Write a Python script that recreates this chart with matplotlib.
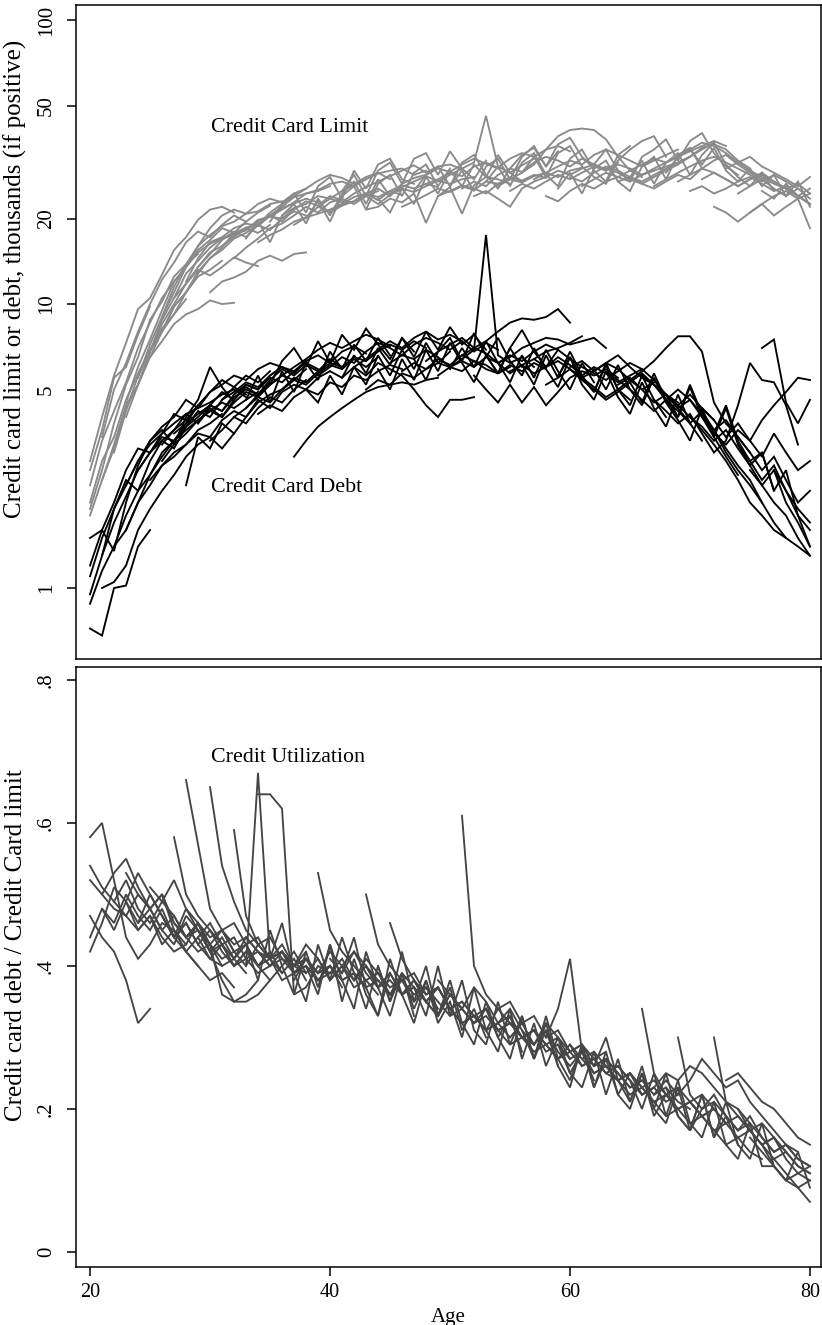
import matplotlib
matplotlib.use("Agg")
import matplotlib.pyplot as plt
import numpy as np

plt.rcParams['font.family'] = ['Liberation Serif', 'DejaVu Serif']

# ---- data: cohort lines (first age of each line, then yearly values) ----
starts = [20, 20, 20, 20, 20, 21, 22, 24, 25, 27, 28, 30, 31, 33, 34, 36, 37, 39, 40, 42, 43,
          45, 46, 48, 49, 51, 52, 54, 55, 57, 58, 60, 61, 63, 64, 66, 67, 69, 70, 72, 73, 75, 76,
          23, 26, 32,
          20, 21, 23, 26, 29, 33, 35, 38, 41, 44, 47, 50, 53, 56, 59, 62, 65, 68, 71, 74, 77]

limit_vals = [
    [2.6, 3.6, 5.5, 6.0, 7.8, 9.8],
    [2.0, 2.8, 3.4, 4.6, 5.7, 6.9, 8.2, 9.2, 10.4],
    [1.8, 2.4, 3.2, 4.4, 5.2, 6.8, 8.0, 9.8, 11.0, 12.5, 13.2, 14.2],
    [2.3, 3.3, 4.2, 5.3, 7.0, 8.6, 10.5, 12.0, 13.5, 15.2, 16.3, 17.0, 17.8, 18.5],
    [2.8, 4.0, 5.6, 7.3, 9.6, 10.5, 12.7, 15.5, 17.2, 19.8, 21.5, 22.0, 21.0],
    [2.4, 3.1, 4.3, 5.2, 6.5, 7.4, 8.5, 9.2, 9.6, 10.3, 10.0, 10.1],
    [3.0, 4.2, 5.6, 6.8, 8.8, 10.5, 11.8, 13.2, 12.6, 13.5, 14.6, 14.0, 13.6],
    [5.5, 7.2, 9.0, 11.5, 13.8, 16.0, 17.5, 18.8, 19.5, 20.8, 21.2, 22.5, 23.0],
    [6.5, 8.0, 9.8, 11.0, 13.0, 14.5, 15.8, 17.8, 18.2, 19.6, 20.3, 20.0, 21.5],
    [10.5, 12.8, 14.2, 15.8, 17.0, 17.5, 18.6, 19.0, 20.5, 21.8, 22.6, 23.5, 22.8],
    [12.0, 14.5, 16.5, 17.2, 18.5, 19.2, 18.8, 20.5, 22.0, 23.8, 24.5, 25.0, 26.0],
    [11.0, 12.0, 12.4, 13.0, 14.2, 14.8, 14.2, 15.0, 15.2],
    [16.0, 17.5, 18.2, 19.8, 20.3, 21.5, 22.8, 24.5, 25.2, 26.5, 27.0, 26.0, 27.5],
    [18.5, 19.0, 21.0, 22.5, 24.0, 25.5, 27.2, 28.5, 27.8, 26.5, 28.0, 29.0, 27.5],
    [16.5, 17.5, 18.3, 19.5, 20.2, 22.0, 21.2, 22.5, 23.8, 24.5, 23.2, 25.0, 24.2],
    [20.5, 21.8, 22.5, 24.0, 23.5, 25.0, 26.2, 27.5, 28.8, 29.5, 30.0, 28.5, 29.5],
    [19.0, 20.2, 20.8, 21.5, 22.5, 23.0, 24.5, 23.8, 25.0, 26.2, 25.5, 26.5, 25.8],
    [22.0, 23.5, 22.8, 24.5, 25.8, 27.0, 28.2, 29.5, 30.8, 29.0, 30.5, 31.0, 29.8],
    [21.0, 22.2, 23.0, 24.0, 22.5, 24.2, 25.5, 24.8, 26.0, 27.2, 26.5, 27.5, 28.0],
    [23.0, 24.5, 25.5, 24.0, 26.5, 27.8, 28.5, 30.0, 29.2, 31.0, 32.5, 31.2, 30.0],
    [21.5, 22.0, 23.5, 22.8, 24.5, 19.3, 24.0, 25.8, 20.8, 26.2, 28.0, 27.5, 26.5],
    [24.5, 25.8, 27.0, 28.2, 27.0, 28.5, 30.0, 31.5, 46.0, 30.5, 29.0, 30.8, 32.5],
    [22.0, 23.0, 24.2, 25.5, 24.8, 26.0, 25.2, 27.0, 26.5, 28.0, 27.2, 28.5, 27.8],
    [26.5, 27.5, 29.0, 28.2, 30.5, 31.5, 30.2, 32.5, 34.0, 33.0, 35.0, 36.0, 34.5],
    [24.0, 25.0, 26.2, 25.5, 24.5, 26.5, 27.5, 26.8, 28.2, 29.0, 28.0, 29.5, 30.2],
    [25.5, 27.0, 26.0, 28.5, 30.0, 29.2, 31.5, 33.0, 32.0, 30.5, 32.5, 31.0, 29.5],
    [24.0, 25.0, 23.5, 22.0, 25.5, 27.0, 28.0, 29.5, 28.5, 30.0, 31.0, 29.8, 31.5],
    [26.0, 27.5, 29.0, 31.0, 35.0, 39.0, 41.0, 41.5, 41.0, 38.0, 33.0, 29.5, 28.0],
    [25.0, 26.5, 25.5, 27.0, 28.5, 27.5, 29.0, 30.5, 29.5, 31.0, 30.0, 28.5, 29.5],
    [27.5, 29.0, 30.5, 32.0, 31.0, 33.5, 35.0, 33.5, 32.0, 30.5, 32.0, 33.5, 35.0],
    [24.0, 23.0, 25.0, 26.5, 25.5, 27.0, 28.0, 27.0, 28.5, 29.5, 30.5, 31.5, 33.0],
    [28.0, 27.0, 29.0, 30.5, 29.5, 28.0, 27.0, 28.5, 30.0, 31.5, 33.0, 35.0, 37.0],
    [26.0, 27.5, 29.0, 28.0, 29.5, 31.0, 32.5, 31.5, 33.0, 34.5, 36.0, 37.5, 36.0],
    [30.0, 29.0, 27.5, 26.5, 28.0, 29.5, 31.0, 33.0, 35.5, 36.5, 35.0, 32.0, 30.0],
    [27.0, 28.0, 26.5, 25.5, 27.0, 28.5, 27.5, 30.0, 32.0, 33.5, 31.0, 29.0, 27.5],
    [28.5, 30.0, 31.5, 33.0, 35.0, 37.0, 36.0, 34.0, 31.5, 29.5, 28.0, 26.5, 25.5],
    [26.0, 27.5, 29.0, 30.5, 32.0, 33.0, 31.5, 30.0, 28.5, 27.0, 28.5, 27.0, 25.5],
    [27.0, 28.5, 30.0, 29.0, 27.5, 26.0, 27.5, 28.5, 27.0, 25.5, 26.5, 24.5],
    [25.0, 26.0, 24.5, 25.5, 27.0, 28.0, 26.5, 25.0, 26.0, 24.0, 22.5],
    [22.0, 21.0, 19.5, 21.0, 22.5, 24.0, 25.0, 23.5, 24.5],
    [30.0, 31.5, 33.0, 30.5, 29.0, 27.5, 26.0, 28.0],
    [21.0, 22.5, 20.5, 22.0, 23.5, 18.5],
    [25.0, 23.5, 26.5, 24.0, 22.5],
    [4.0, 5.2, 6.8, 8.5, 10.0, 11.8, 13.5, 15.2, 16.0, 17.2, 18.5, 17.8, 19.0],
    [8.0, 9.2, 11.0, 12.8, 14.5, 15.5, 17.0, 17.8, 19.0, 18.2, 20.0, 21.2, 20.5],
    [14.5, 15.8, 17.0, 18.5, 19.2, 20.5, 22.0, 21.0, 22.8, 23.5, 22.5, 24.0, 25.0],
    [1.9, 2.6, 3.8, 5.2, 6.5, 8.8, 10.2, 12.5, 13.8, 15.0],
    [3.4, 5.0, 6.2, 8.0, 10.0, 12.2, 14.0, 16.5, 18.0, 17.2, 19.0, 20.5, 19.5],
    [4.5, 6.0, 7.5, 9.5, 12.0, 13.5, 15.5, 16.8, 18.5, 17.8, 19.5, 21.0, 22.2],
    [9.0, 11.0, 13.5, 16.0, 18.5, 20.5, 21.5, 20.8, 22.5, 23.5, 22.8, 24.5, 25.5],
    [13.5, 15.0, 16.8, 18.0, 17.2, 19.0, 20.5, 19.5, 21.5, 23.0, 22.2, 24.0, 23.2],
    [17.0, 19.5, 16.5, 20.5, 22.5, 19.2, 23.5, 20.5, 24.5, 27.0, 22.5, 27.5, 24.0],
    [19.5, 22.5, 24.5, 21.0, 26.0, 28.0, 23.5, 29.5, 25.5, 31.0, 32.5, 27.5, 26.5],
    [20.0, 23.0, 19.5, 24.0, 26.0, 21.5, 26.5, 28.5, 24.0, 29.0, 31.0, 26.0, 30.0],
    [25.0, 28.5, 24.0, 29.5, 31.5, 26.5, 32.5, 34.0, 28.5, 34.5, 30.0, 27.5, 32.0],
    [23.5, 21.0, 25.5, 22.5, 28.0, 24.5, 29.5, 26.0, 31.0, 28.0, 33.5, 29.0, 27.0],
    [25.0, 28.5, 30.5, 26.0, 31.5, 33.5, 28.5, 25.5, 30.0, 33.5, 35.5, 30.5, 34.5],
    [26.0, 29.5, 25.0, 30.5, 32.5, 27.5, 33.0, 36.0, 30.5, 36.5, 38.5, 33.0, 30.0],
    [27.0, 30.5, 26.0, 31.5, 34.0, 28.5, 26.0, 32.5, 35.0, 29.5, 27.0, 33.5, 36.0],
    [29.0, 33.0, 28.0, 34.0, 36.0, 30.5, 28.0, 26.5, 32.0, 35.0, 37.5, 39.0, 33.0],
    [25.5, 29.0, 24.5, 30.0, 32.0, 27.0, 25.0, 30.5, 33.0, 27.5, 33.5, 35.5, 30.0],
    [31.0, 35.0, 29.5, 27.0, 33.0, 35.0, 38.0, 32.0, 37.5, 40.0, 34.0, 30.5, 28.5],
    [28.0, 32.0, 26.5, 31.5, 34.0, 28.5, 33.5, 37.0, 31.0, 28.0, 26.0, 29.0, 25.0],
    [29.0, 33.0, 35.0, 31.0, 35.5, 29.5, 27.0, 30.0, 26.0, 28.5, 24.0, 27.0, 22.0],
    [27.5, 29.0, 27.5, 26.0, 27.5, 29.0, 27.0, 25.5, 24.0, 25.5],
    [24.5, 26.0, 27.5, 25.5, 24.0, 25.5, 23.5],
    [27.0, 25.5, 24.0, 22.5],
]

debt_vals = [
    [0.72, 0.68, 1.0, 1.02, 1.4, 1.6],
    [0.95, 1.3, 1.7, 2.1, 2.6, 3.0, 3.3, 3.6, 3.9],
    [0.88, 1.15, 1.4, 1.6, 2.0, 2.3, 2.7, 3.0, 3.2, 3.6, 3.8, 4.1],
    [1.1, 1.5, 1.9, 2.3, 2.8, 3.2, 3.5, 3.8, 4.1, 4.3, 4.5, 4.8, 5.0, 4.7],
    [1.5, 1.6, 1.35, 2.0, 2.7, 3.3, 3.6, 3.2, 4.0, 4.6, 6.0, 5.1, 4.5],
    [1.0, 1.05, 1.2, 1.6, 1.9, 2.2, 2.5, 2.9, 3.2, 3.4, 3.1, 3.5],
    [1.4, 1.8, 2.2, 2.5, 3.0, 3.3, 3.6, 3.9, 4.2, 4.5, 4.3, 4.6, 4.9],
    [2.6, 3.0, 3.4, 3.3, 3.8, 4.4, 4.9, 5.2, 5.6, 5.4, 5.9, 6.2, 6.0],
    [2.4, 2.7, 2.9, 3.2, 3.5, 3.4, 3.9, 4.2, 4.0, 4.5, 4.8, 5.0, 5.4],
    [3.5, 3.8, 4.1, 4.4, 4.2, 4.8, 5.2, 5.0, 5.5, 5.3, 5.8, 6.2, 5.9],
    [2.3, 3.4, 3.1, 3.8, 3.5, 4.0, 4.6, 4.3, 4.9, 5.2, 5.0, 5.5, 5.8],
    [3.3, 3.6, 4.0, 3.8, 4.3, 4.7, 4.5, 5.0, 5.4],
    [4.6, 4.9, 5.3, 5.1, 5.6, 6.0, 5.8, 6.3, 6.6, 6.2, 6.8, 7.1, 6.7],
    [4.3, 4.8, 5.2, 5.6, 6.0, 6.4, 6.9, 7.3, 7.0, 7.4, 7.8, 7.5, 7.1],
    [4.1, 4.4, 4.2, 4.7, 5.0, 4.8, 5.3, 5.1, 5.6, 5.4, 5.8, 6.1, 5.9],
    [5.0, 5.5, 5.3, 5.8, 6.2, 6.0, 6.5, 6.3, 6.8, 7.2, 6.9, 7.4, 7.0],
    [2.9, 3.3, 3.7, 4.0, 4.3, 4.6, 4.9, 5.1, 5.2, 5.3, 5.2, 5.4, 5.5],
    [5.6, 6.0, 6.5, 6.2, 6.8, 7.3, 7.0, 6.6, 7.2, 7.6, 7.3, 6.9, 7.4],
    [5.8, 5.5, 6.0, 5.6, 6.2, 5.9, 5.6, 5.0, 4.4, 4.0, 4.6, 4.6, 4.7],
    [6.0, 6.4, 6.9, 7.4, 7.0, 7.6, 8.0, 7.5, 7.8, 7.4, 6.8, 7.3, 6.9],
    [5.0, 5.4, 5.2, 5.7, 5.5, 5.9, 6.2, 6.0, 5.8, 6.3, 6.1, 5.7, 6.0],
    [6.2, 6.6, 6.4, 6.9, 6.5, 6.0, 6.4, 6.9, 17.5, 6.6, 6.2, 6.5, 6.0],
    [5.8, 6.2, 5.9, 6.4, 6.1, 6.6, 6.3, 5.9, 5.7, 6.1, 5.8, 6.2, 5.9],
    [6.3, 6.8, 7.2, 7.6, 7.0, 7.4, 8.0, 8.6, 8.9, 8.8, 9.0, 9.6, 8.6],
    [5.6, 6.0, 6.3, 6.0, 6.5, 6.2, 5.7, 6.1, 6.4, 6.8, 7.0, 7.3, 7.7],
    [6.6, 7.0, 6.7, 6.2, 6.5, 7.0, 7.3, 7.6, 7.5, 7.2, 7.4, 7.6, 7.0],
    [5.6, 5.0, 4.5, 5.2, 4.5, 5.1, 4.4, 4.9, 5.5, 5.8, 5.6, 5.9, 5.5],
    [6.2, 6.6, 6.3, 6.8, 7.2, 6.9, 6.4, 6.0, 5.7, 5.4, 5.8, 6.2, 5.9],
    [5.8, 6.1, 5.7, 6.0, 6.3, 5.9, 5.5, 5.8, 6.2, 5.9, 5.4, 5.0, 5.3],
    [6.4, 6.0, 6.5, 6.1, 5.6, 6.0, 5.7, 5.3, 5.6, 5.9, 5.4, 4.8, 4.5],
    [5.2, 5.5, 5.9, 5.4, 5.0, 4.6, 4.9, 5.3, 5.7, 5.2, 4.6, 4.2, 3.8],
    [6.0, 6.3, 5.8, 6.2, 6.6, 6.0, 5.5, 5.2, 4.8, 4.4, 4.8, 4.3, 3.9],
    [5.5, 5.1, 4.7, 5.0, 5.4, 5.8, 6.3, 7.0, 7.7, 7.7, 6.8, 4.5, 3.8],
    [5.8, 5.4, 5.0, 4.6, 4.2, 4.6, 5.0, 4.6, 4.0, 3.6, 3.9, 3.4, 3.0],
    [5.2, 5.5, 5.0, 4.5, 4.8, 4.3, 3.8, 4.2, 3.6, 3.0, 2.6, 2.3, 2.0],
    [5.6, 5.2, 4.8, 4.3, 4.6, 4.1, 3.6, 3.1, 2.7, 2.4, 2.0, 1.7, 1.5],
    [4.6, 4.2, 3.8, 4.1, 3.5, 3.0, 3.3, 4.4, 6.2, 5.4, 5.3, 4.4, 3.2],
    [4.4, 4.0, 3.6, 3.2, 2.8, 2.4, 2.0, 1.8, 1.6, 1.5, 1.4, 1.3],
    [4.0, 3.7, 3.3, 3.6, 3.1, 2.7, 2.3, 2.6, 2.2, 1.9, 1.7],
    [3.5, 3.2, 3.6, 3.3, 3.9, 4.4, 4.9, 5.5, 5.4],
    [3.8, 3.4, 3.0, 2.6, 2.9, 2.4, 2.0, 2.2],
    [2.6, 2.3, 2.0, 1.8, 1.5, 1.3],
    [7.0, 7.5, 4.5, 3.8, 4.6],
    [1.6, 2.0, 2.5, 2.9, 3.3, 3.7, 4.0, 4.4, 4.2, 4.7, 5.0, 4.8, 5.3],
    [2.8, 3.2, 3.5, 3.9, 4.2, 4.0, 4.5, 4.9, 4.7, 5.2, 5.6, 5.4, 5.9],
    [4.0, 4.3, 4.7, 4.5, 5.0, 5.4, 5.2, 5.7, 6.1, 5.9, 6.4, 6.0, 6.5],
    [1.2, 1.6, 2.0, 2.6, 3.1, 3.0, 3.5, 4.1, 3.9, 4.4],
    [1.3, 1.9, 2.4, 2.2, 2.8, 3.3, 3.1, 3.7, 4.2, 4.0, 4.6, 5.1, 4.8],
    [2.3, 2.8, 3.3, 3.7, 4.0, 4.6, 4.3, 4.9, 5.4, 5.1, 5.6, 5.3, 5.8],
    [3.2, 3.6, 4.1, 3.8, 4.4, 4.9, 4.6, 5.2, 5.0, 5.6, 6.0, 5.7, 6.3],
    [3.8, 4.3, 4.0, 4.6, 5.1, 4.8, 5.4, 5.9, 5.6, 6.1, 5.8, 6.4, 6.0],
    [4.6, 5.6, 4.5, 5.8, 4.9, 6.2, 5.4, 6.8, 5.9, 7.2, 6.3, 7.6, 6.6],
    [5.2, 6.3, 7.0, 6.0, 7.4, 6.2, 7.8, 6.9, 8.2, 7.2, 6.4, 7.6, 6.8],
    [5.0, 4.5, 5.6, 4.8, 6.0, 5.2, 6.6, 5.6, 6.9, 5.9, 7.3, 6.2, 6.8],
    [5.5, 6.6, 5.7, 7.0, 6.1, 7.6, 6.5, 8.0, 6.9, 8.3, 7.2, 7.8, 6.9],
    [5.9, 5.0, 6.4, 5.4, 6.9, 5.8, 7.3, 6.2, 5.3, 6.6, 5.7, 7.0, 6.0],
    [6.4, 5.4, 6.8, 7.6, 6.3, 7.9, 6.6, 5.7, 7.0, 8.1, 6.8, 6.0, 6.9],
    [5.9, 7.0, 6.0, 7.4, 6.2, 5.3, 6.6, 5.5, 6.9, 5.8, 5.0, 6.2, 5.3],
    [6.5, 7.6, 6.3, 5.6, 7.0, 5.9, 5.1, 6.5, 5.5, 4.9, 6.1, 5.0, 4.6],
    [6.1, 5.2, 6.6, 5.5, 6.8, 5.6, 4.9, 6.2, 5.0, 4.4, 5.6, 4.6, 4.0],
    [5.6, 6.5, 5.2, 4.6, 5.8, 4.7, 4.1, 5.3, 4.3, 3.7, 4.8, 3.8, 3.3],
    [5.9, 5.0, 6.1, 5.0, 4.4, 5.5, 4.5, 3.9, 3.3, 4.3, 3.4, 2.9, 2.5],
    [5.3, 4.5, 5.7, 4.6, 4.0, 5.1, 4.0, 3.4, 4.3, 3.2, 2.7, 3.0, 2.2],
    [4.8, 4.0, 5.2, 4.1, 3.5, 4.4, 3.3, 2.8, 3.0, 2.2, 2.6, 1.8, 1.6],
    [4.3, 3.9, 3.4, 3.8, 3.3, 2.9, 3.5, 3.0, 2.6, 2.8],
    [3.2, 2.8, 2.4, 2.7, 2.2, 1.8, 1.4],
    [2.6, 2.0, 1.7, 1.4],
]

util_vals = [
    [0.47, 0.44, 0.42, 0.38, 0.32, 0.34],
    [0.52, 0.50, 0.48, 0.47, 0.45, 0.47, 0.44, 0.42, 0.43],
    [0.44, 0.48, 0.46, 0.50, 0.47, 0.45, 0.48, 0.44, 0.42, 0.44, 0.41, 0.40],
    [0.54, 0.51, 0.49, 0.52, 0.48, 0.46, 0.49, 0.47, 0.44, 0.42, 0.43, 0.40, 0.41, 0.39],
    [0.58, 0.60, 0.52, 0.44, 0.41, 0.43, 0.46, 0.45, 0.42, 0.40, 0.38, 0.39, 0.37],
    [0.50, 0.53, 0.55, 0.51, 0.48, 0.50, 0.46, 0.44, 0.46, 0.43, 0.41, 0.42],
    [0.49, 0.47, 0.50, 0.48, 0.45, 0.47, 0.44, 0.46, 0.43, 0.36, 0.35, 0.36, 0.38],
    [0.46, 0.48, 0.45, 0.43, 0.47, 0.45, 0.42, 0.44, 0.41, 0.43, 0.40, 0.42, 0.39],
    [0.51, 0.49, 0.52, 0.48, 0.46, 0.44, 0.45, 0.42, 0.43, 0.40, 0.41, 0.38, 0.39],
    [0.58, 0.50, 0.47, 0.45, 0.43, 0.44, 0.41, 0.42, 0.40, 0.41, 0.39, 0.40, 0.38],
    [0.66, 0.57, 0.48, 0.45, 0.46, 0.43, 0.44, 0.41, 0.42, 0.39, 0.40, 0.38, 0.39],
    [0.65, 0.54, 0.49, 0.45, 0.43, 0.44, 0.41, 0.40, 0.42],
    [0.45, 0.43, 0.44, 0.42, 0.41, 0.43, 0.40, 0.41, 0.39, 0.40, 0.38, 0.39, 0.37],
    [0.40, 0.67, 0.41, 0.42, 0.40, 0.41, 0.39, 0.40, 0.38, 0.39, 0.37, 0.38, 0.36],
    [0.64, 0.64, 0.62, 0.36, 0.37, 0.40, 0.39, 0.41, 0.38, 0.40, 0.37, 0.38, 0.36],
    [0.42, 0.40, 0.43, 0.41, 0.38, 0.40, 0.42, 0.39, 0.37, 0.39, 0.36, 0.37, 0.35],
    [0.38, 0.41, 0.39, 0.42, 0.40, 0.38, 0.41, 0.39, 0.36, 0.38, 0.35, 0.37, 0.34],
    [0.53, 0.45, 0.42, 0.40, 0.38, 0.39, 0.37, 0.38, 0.36, 0.37, 0.35, 0.33, 0.34],
    [0.41, 0.39, 0.42, 0.40, 0.38, 0.36, 0.39, 0.37, 0.35, 0.37, 0.34, 0.32, 0.33],
    [0.38, 0.40, 0.37, 0.39, 0.36, 0.38, 0.35, 0.37, 0.34, 0.32, 0.33, 0.31, 0.32],
    [0.50, 0.43, 0.40, 0.38, 0.39, 0.36, 0.37, 0.34, 0.35, 0.33, 0.31, 0.32, 0.30],
    [0.46, 0.41, 0.38, 0.36, 0.37, 0.34, 0.35, 0.33, 0.34, 0.31, 0.32, 0.30, 0.29],
    [0.36, 0.38, 0.35, 0.33, 0.36, 0.34, 0.32, 0.33, 0.31, 0.29, 0.30, 0.28, 0.29],
    [0.35, 0.33, 0.36, 0.34, 0.32, 0.34, 0.31, 0.32, 0.30, 0.31, 0.28, 0.29, 0.27],
    [0.38, 0.36, 0.34, 0.37, 0.35, 0.32, 0.33, 0.30, 0.31, 0.29, 0.30, 0.27, 0.28],
    [0.61, 0.40, 0.36, 0.34, 0.35, 0.32, 0.33, 0.30, 0.31, 0.28, 0.29, 0.27, 0.28],
    [0.33, 0.31, 0.34, 0.32, 0.30, 0.31, 0.29, 0.27, 0.28, 0.26, 0.27, 0.25, 0.24],
    [0.32, 0.34, 0.31, 0.29, 0.32, 0.30, 0.28, 0.29, 0.26, 0.27, 0.25, 0.23, 0.24],
    [0.30, 0.32, 0.29, 0.31, 0.28, 0.26, 0.28, 0.25, 0.26, 0.24, 0.25, 0.22, 0.23],
    [0.31, 0.29, 0.27, 0.29, 0.26, 0.27, 0.25, 0.26, 0.24, 0.22, 0.23, 0.21, 0.22],
    [0.30, 0.34, 0.41, 0.28, 0.26, 0.27, 0.25, 0.23, 0.24, 0.22, 0.23, 0.21, 0.20],
    [0.29, 0.27, 0.28, 0.26, 0.24, 0.25, 0.23, 0.24, 0.22, 0.20, 0.21, 0.19, 0.20],
    [0.27, 0.25, 0.26, 0.24, 0.25, 0.23, 0.21, 0.22, 0.20, 0.21, 0.19, 0.17, 0.18],
    [0.25, 0.26, 0.24, 0.22, 0.23, 0.25, 0.24, 0.26, 0.25, 0.23, 0.21, 0.20, 0.18],
    [0.24, 0.22, 0.23, 0.21, 0.19, 0.20, 0.18, 0.19, 0.17, 0.15, 0.16, 0.14, 0.13],
    [0.34, 0.25, 0.22, 0.23, 0.21, 0.22, 0.20, 0.18, 0.19, 0.17, 0.15, 0.16, 0.14],
    [0.22, 0.24, 0.22, 0.24, 0.27, 0.25, 0.23, 0.24, 0.21, 0.19, 0.17, 0.15, 0.14],
    [0.30, 0.22, 0.20, 0.21, 0.19, 0.17, 0.18, 0.16, 0.14, 0.15, 0.13, 0.12],
    [0.21, 0.19, 0.20, 0.18, 0.16, 0.17, 0.15, 0.13, 0.14, 0.12, 0.11],
    [0.30, 0.21, 0.19, 0.17, 0.18, 0.16, 0.14, 0.12, 0.11],
    [0.24, 0.25, 0.23, 0.21, 0.20, 0.18, 0.16, 0.15],
    [0.16, 0.14, 0.12, 0.10, 0.09, 0.07],
    [0.15, 0.12, 0.10, 0.11, 0.12],
    [0.53, 0.50, 0.48, 0.50, 0.46, 0.44, 0.45, 0.42, 0.43, 0.40, 0.41, 0.39, 0.40],
    [0.50, 0.45, 0.43, 0.46, 0.42, 0.38, 0.35, 0.35, 0.36, 0.38, 0.40, 0.42, 0.39],
    [0.59, 0.47, 0.43, 0.41, 0.42, 0.40, 0.39, 0.41, 0.38, 0.40, 0.37, 0.38, 0.36],
    [0.42, 0.46, 0.51, 0.49, 0.45, 0.47, 0.43, 0.45, 0.42, 0.40],
    [0.48, 0.45, 0.49, 0.46, 0.50, 0.47, 0.44, 0.46, 0.43, 0.41, 0.43, 0.40, 0.42],
    [0.49, 0.53, 0.50, 0.47, 0.44, 0.46, 0.43, 0.45, 0.42, 0.40, 0.42, 0.40, 0.38],
    [0.47, 0.44, 0.48, 0.45, 0.43, 0.45, 0.42, 0.40, 0.43, 0.41, 0.39, 0.41, 0.38],
    [0.44, 0.46, 0.43, 0.41, 0.44, 0.42, 0.40, 0.42, 0.39, 0.41, 0.38, 0.40, 0.37],
    [0.43, 0.38, 0.45, 0.40, 0.36, 0.42, 0.37, 0.43, 0.35, 0.41, 0.36, 0.33, 0.39],
    [0.41, 0.46, 0.39, 0.35, 0.43, 0.38, 0.44, 0.39, 0.34, 0.40, 0.35, 0.39, 0.33],
    [0.40, 0.36, 0.43, 0.38, 0.34, 0.42, 0.37, 0.33, 0.39, 0.34, 0.38, 0.32, 0.35],
    [0.39, 0.44, 0.37, 0.33, 0.41, 0.36, 0.32, 0.38, 0.33, 0.37, 0.31, 0.34, 0.30],
    [0.40, 0.35, 0.42, 0.35, 0.40, 0.33, 0.38, 0.32, 0.29, 0.35, 0.30, 0.33, 0.28],
    [0.37, 0.33, 0.40, 0.33, 0.38, 0.31, 0.29, 0.35, 0.29, 0.33, 0.27, 0.31, 0.26],
    [0.35, 0.30, 0.37, 0.31, 0.28, 0.34, 0.27, 0.32, 0.26, 0.30, 0.25, 0.28, 0.24],
    [0.34, 0.30, 0.27, 0.33, 0.27, 0.32, 0.26, 0.23, 0.29, 0.23, 0.27, 0.22, 0.25],
    [0.31, 0.27, 0.33, 0.27, 0.24, 0.29, 0.23, 0.28, 0.22, 0.20, 0.25, 0.19, 0.22],
    [0.29, 0.25, 0.23, 0.28, 0.22, 0.27, 0.21, 0.25, 0.20, 0.18, 0.23, 0.17, 0.20],
    [0.26, 0.30, 0.24, 0.21, 0.26, 0.20, 0.25, 0.19, 0.17, 0.22, 0.16, 0.19, 0.15],
    [0.24, 0.20, 0.25, 0.19, 0.24, 0.18, 0.16, 0.21, 0.15, 0.13, 0.18, 0.12, 0.12],
    [0.23, 0.19, 0.17, 0.22, 0.16, 0.21, 0.15, 0.13, 0.18, 0.12, 0.10, 0.14, 0.09],
    [0.20, 0.22, 0.19, 0.17, 0.19, 0.16, 0.14, 0.15, 0.13, 0.12],
    [0.20, 0.17, 0.15, 0.16, 0.13, 0.11, 0.10],
    [0.13, 0.11, 0.09, 0.10],
]

top_ticks = [1, 5, 10, 20, 50, 100]
top_ticklabels = ['1', '5', '10', '20', '50', '100']
bot_ticks = [0, 0.2, 0.4, 0.6, 0.8]
bot_ticklabels = ['0', '.2', '.4', '.6', '.8']
x_ticks = [20, 40, 60, 80]

# ---- figure ----
W, H = 822, 1325
fig = plt.figure(figsize=(W / 100, H / 100), dpi=100)
L, R = 76, 821
ax1 = fig.add_axes([L / W, 1 - 659 / H, (R - L) / W, (659 - 5) / H])
ax2 = fig.add_axes([L / W, 1 - 1267 / H, (R - L) / W, (1267 - 667) / H])

LIM_C = '#8a8a8a'
DEBT_C = '#000000'
UTIL_C = '#454545'
LW = 1.35

for s, v in zip(starts, limit_vals):
    ages = s + np.arange(len(v))
    ax1.plot(ages, v, color=LIM_C, lw=LW, solid_joinstyle='miter')
for s, v in zip(starts, debt_vals):
    ages = s + np.arange(len(v))
    ax1.plot(ages, v, color=DEBT_C, lw=LW, solid_joinstyle='miter')
for s, v in zip(starts, util_vals):
    ages = s + np.arange(len(v))
    ax2.plot(ages, v, color=UTIL_C, lw=LW, solid_joinstyle='miter')

xlim = (18.83, 80.92)
ax1.set_yscale('log')
ax1.set_xlim(*xlim)
ax1.set_ylim(10 ** -0.25, 10 ** 2.053)
ax1.set_yticks(top_ticks)
ax1.set_yticklabels(top_ticklabels)
ax1.yaxis.set_minor_locator(matplotlib.ticker.NullLocator())
ax1.set_xticks([])

ax2.set_xlim(*xlim)
ax2.set_ylim(-0.021, 0.818)
ax2.set_yticks(bot_ticks)
ax2.set_yticklabels(bot_ticklabels)
ax2.set_xticks(x_ticks)
ax2.set_xticklabels([str(t) for t in x_ticks])

for ax in (ax1, ax2):
    for sp in ax.spines.values():
        sp.set_linewidth(1.1)
    ax.tick_params(axis='both', direction='out', length=6.5, width=1.1,
                   labelsize=15, pad=7)
    ax.tick_params(axis='y', labelrotation=90, pad=8)
    for lab in ax.get_yticklabels():
        lab.set_va('center')

ax2.tick_params(axis='x', labelsize=14.5, pad=5)

ax1.set_ylabel('Credit card limit or debt, thousands (if positive)', fontsize=18)
ax1.yaxis.set_label_coords(-0.066, 0.581)
ax2.set_ylabel('Credit card debt / Credit Card limit', fontsize=18)
ax2.yaxis.set_label_coords(-0.066, 0.537)
ax2.set_xlabel('Age', fontsize=15)
ax2.xaxis.set_label_coords(0.5, -0.068)

ax1.text(30.08, 41.7, 'Credit Card Limit', fontsize=15.8, ha='left', va='center')
ax1.text(30.08, 2.25, 'Credit Card Debt', fontsize=15.8, ha='left', va='center')
ax2.text(30.08, 0.691, 'Credit Utilization', fontsize=15.8, ha='left', va='center')

fig.savefig('out.png', dpi=100)
